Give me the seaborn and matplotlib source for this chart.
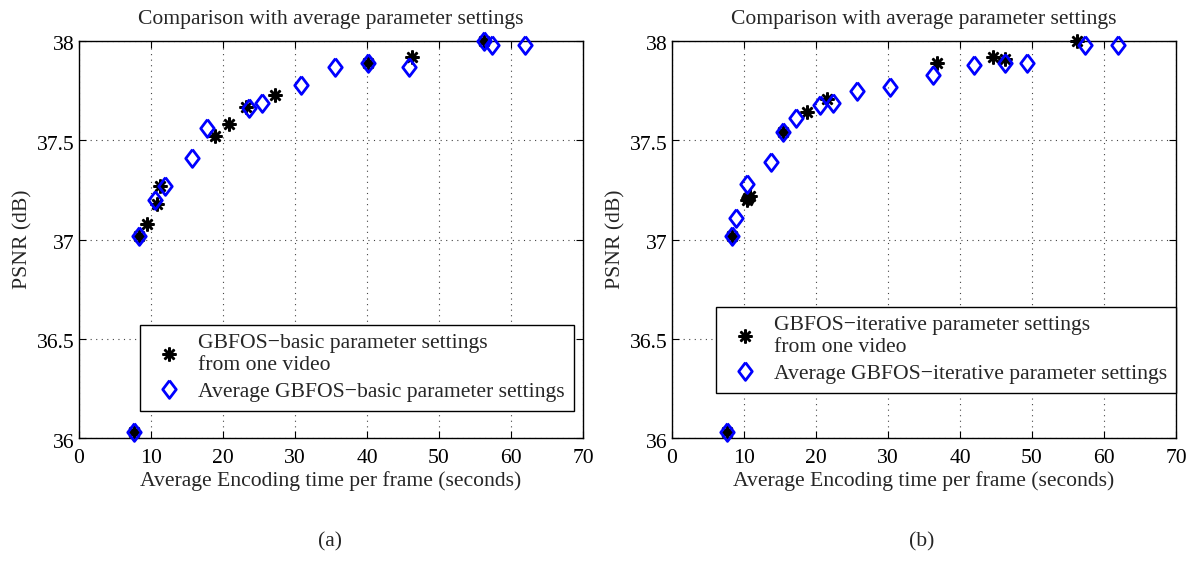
import numpy as np
import pandas as pd
import matplotlib
matplotlib.use("Agg")
import matplotlib.pyplot as plt
from matplotlib.transforms import ScaledTranslation
import seaborn as sns

# ---------------- data ----------------
# (a) GBFOS-basic
a_star_x = [7.6, 8.4, 9.5, 10.8, 11.3, 18.9, 20.9, 23.2, 27.2, 40.2, 46.3, 56.2]
a_star_y = [36.03, 37.02, 37.08, 37.18, 37.27, 37.52, 37.58, 37.67, 37.73, 37.89, 37.92, 38.0]
a_dia_x = [7.6, 8.4, 10.5, 12.0, 15.7, 17.8, 23.6, 25.4, 30.8, 35.6, 40.2, 45.8, 56.2, 57.4, 61.9]
a_dia_y = [36.03, 37.02, 37.20, 37.27, 37.41, 37.56, 37.66, 37.69, 37.78, 37.87, 37.89, 37.87, 38.0, 37.98, 37.98]

# (b) GBFOS-iterative
b_star_x = [7.7, 8.4, 10.4, 10.6, 10.8, 15.4, 18.8, 21.5, 36.8, 44.6, 46.3, 56.3]
b_star_y = [36.03, 37.02, 37.20, 37.21, 37.22, 37.54, 37.64, 37.71, 37.89, 37.92, 37.91, 38.0]
b_dia_x = [7.7, 8.4, 8.9, 10.4, 13.8, 15.4, 17.2, 20.6, 22.4, 25.7, 30.3, 36.3, 41.9, 46.3, 49.3, 57.4, 62.0]
b_dia_y = [36.03, 37.02, 37.11, 37.28, 37.39, 37.54, 37.61, 37.68, 37.69, 37.75, 37.77, 37.83, 37.88, 37.89, 37.89, 37.98, 37.98]

x_ticks = [0, 10, 20, 30, 40, 50, 60, 70]
y_ticks = [36, 36.5, 37, 37.5, 38]
y_tick_labels = ["36", "36.5", "37", "37.5", "38"]

title = "Comparison with average parameter settings"
xlabel = "Average Encoding time per frame (seconds)"
ylabel = "PSNR (dB)"
a_labels = ["GBFOS\u2212basic parameter settings\nfrom one video",
            "Average GBFOS\u2212basic parameter settings"]
b_labels = ["GBFOS\u2212iterative parameter settings\nfrom one video",
            "Average GBFOS\u2212iterative parameter settings"]
panel_labels = ["(a)", "(b)"]

# ---------------- style ----------------
sns.set_style("ticks")
plt.rcParams["font.family"] = ["Liberation Serif", "DejaVu Serif"]
FS = 15.6

W, H = 1202, 581
fig = plt.figure(figsize=(W / 100, H / 100), dpi=100)
fig.patch.set_facecolor("white")

star_marker = (8, 2, 0)
diamond_marker = [(0, 1), (0.76, 0), (0, -1), (-0.76, 0), (0, 1)]

panels = [
    (79, a_star_x, a_star_y, a_dia_x, a_dia_y, a_labels, (0.982, 0.068), panel_labels[0], 330),
    (672, b_star_x, b_star_y, b_dia_x, b_dia_y, b_labels, (1.0, 0.113), panel_labels[1], 922),
]

for left, sx, sy, dx, dy, labels, anchor, plab, plx in panels:
    ax = fig.add_axes([left / W, (H - 438) / H, 504 / W, 397 / H])
    sns.lineplot(x=sx, y=sy, ax=ax, estimator=None, sort=False, linestyle="",
                 marker=star_marker, markersize=10, color="black",
                 markeredgecolor="black", markeredgewidth=1.8, label=labels[0],
                 clip_on=False, zorder=4)
    sns.lineplot(x=dx, y=dy, ax=ax, estimator=None, sort=False, linestyle="",
                 marker=diamond_marker, markersize=12.8, color="blue",
                 markerfacecolor="none", markeredgecolor="blue",
                 markeredgewidth=2.0, label=labels[1], clip_on=False, zorder=5)
    ax.set_xlim(0, 70)
    ax.set_ylim(36, 38)
    ax.set_xticks(x_ticks)
    ax.set_xticklabels([str(t) for t in x_ticks])
    ax.set_yticks(y_ticks)
    ax.set_yticklabels(y_tick_labels)
    ax.grid(True, linestyle=(0, (1, 4)), color="#444444", linewidth=0.8)
    ax.tick_params(direction="in", top=True, right=True, length=5, width=0.8,
                   labelsize=FS, colors="black")
    ax.tick_params(axis="x", pad=8)
    ax.tick_params(axis="y", pad=3)
    shift = ScaledTranslation(0, -2.5 / 100, fig.dpi_scale_trans)
    for lbl in ax.get_yticklabels():
        lbl.set_transform(lbl.get_transform() + shift)
    for s in ax.spines.values():
        s.set_visible(True)
        s.set_linewidth(1.0)
        s.set_color("black")
        s.set_zorder(3)
    ax.set_title(title, fontsize=FS, pad=12)
    ax.set_xlabel(xlabel, fontsize=FS, labelpad=2)
    ax.set_ylabel(ylabel, fontsize=FS, labelpad=3)
    leg = ax.legend(loc="lower right", bbox_to_anchor=anchor, fontsize=FS,
                    frameon=True, fancybox=False, framealpha=1, edgecolor="black",
                    borderpad=0.42, handletextpad=0.45, labelspacing=0.32,
                    handlelength=1.8, borderaxespad=0)
    leg.get_frame().set_linewidth(1.0)
    leg.set_zorder(6)
    fig.text(plx / W, (H - 542) / H, plab, fontsize=FS, ha="center", va="center")

fig.savefig("out.png", dpi=100)
